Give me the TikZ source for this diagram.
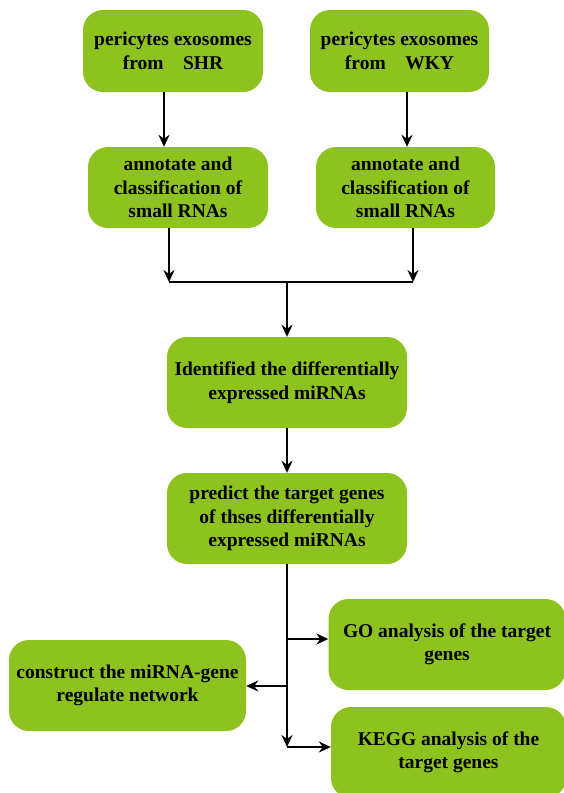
\documentclass[tikz,border=0pt]{standalone}
\usepackage{fontspec}
\setmainfont{Liberation Serif}
\usetikzlibrary{arrows.meta,calc}
\definecolor{boxgreen}{HTML}{8DC21F}
\tikzset{
  box/.style={rectangle, rounded corners=20pt, fill=boxgreen, draw=none,
    align=center, font=\fontsize{19.5}{23.5}\selectfont\bfseries, inner sep=0pt},
  arr/.style={line width=2.2pt, -{Stealth[length=12pt,width=11pt,inset=4pt]}},
  ln/.style={line width=2.2pt}
}
\begin{document}
\begin{tikzpicture}[x=1pt,y=-1pt]
\useasboundingbox (0,0) rectangle (564,793);
\clip (0,0) rectangle (564,793);
\node[box, minimum width=180pt, minimum height=82pt] (b1) at (173,51) {pericytes exosomes\\from\quad SHR};
\node[box, minimum width=179pt, minimum height=82pt] (b2) at (399.5,51) {pericytes exosomes\\from\quad WKY};
\node[box, minimum width=180pt, minimum height=81pt] (b3) at (178,187.5) {annotate and\\classification of\\small RNAs};
\node[box, minimum width=179pt, minimum height=81pt] (b4) at (405.5,187.5) {annotate and\\classification of\\small RNAs};
\node[box, minimum width=240pt, minimum height=91pt] (b5) at (287,382.5) {Identified the differentially\\expressed miRNAs};
\node[box, minimum width=240pt, minimum height=91pt] (b6) at (287,518.5) {predict the target genes\\of thses differentially\\expressed miRNAs};
\node[box, minimum width=237pt, minimum height=91pt] (go) at (447,644.5) {GO analysis of the target\\genes};
\node[box, minimum width=237pt, minimum height=91pt] (net) at (127.5,685.5) {construct the miRNA-gene\\regulate network};
\node[box, minimum width=235pt, minimum height=91pt] (kegg) at (448.5,752.5) {KEGG analysis of the\\target genes};
% connectors top
\coordinate (a1) at (164,92);
\coordinate (a2) at (407,92);
\draw[arr] (a1) -- (a1 |- b3.north);
\draw[arr] (a2) -- (a2 |- b4.north);
\coordinate (jl) at (169,282);
\coordinate (jr) at (413,282);
\coordinate (jm) at (287,282);
\draw[arr] (jl |- b3.south) -- (jl);
\draw[arr] (jr |- b4.south) -- (jr);
\draw[ln] (jl) -- (jr);
\draw[arr] (jm) -- (b5.north);
\draw[arr] (b5.south) -- (b6.north);
% bottom branching
\coordinate (k) at (287,747);
\draw[arr] (b6.south) -- (k);
\coordinate (g) at (287,639);
\coordinate (n) at (287,686);
\draw[arr] (g) -- (g -| go.west);
\draw[arr] (n) -- (n -| net.east);
\draw[arr] (k) -- (k -| kegg.west);
\end{tikzpicture}
\end{document}
